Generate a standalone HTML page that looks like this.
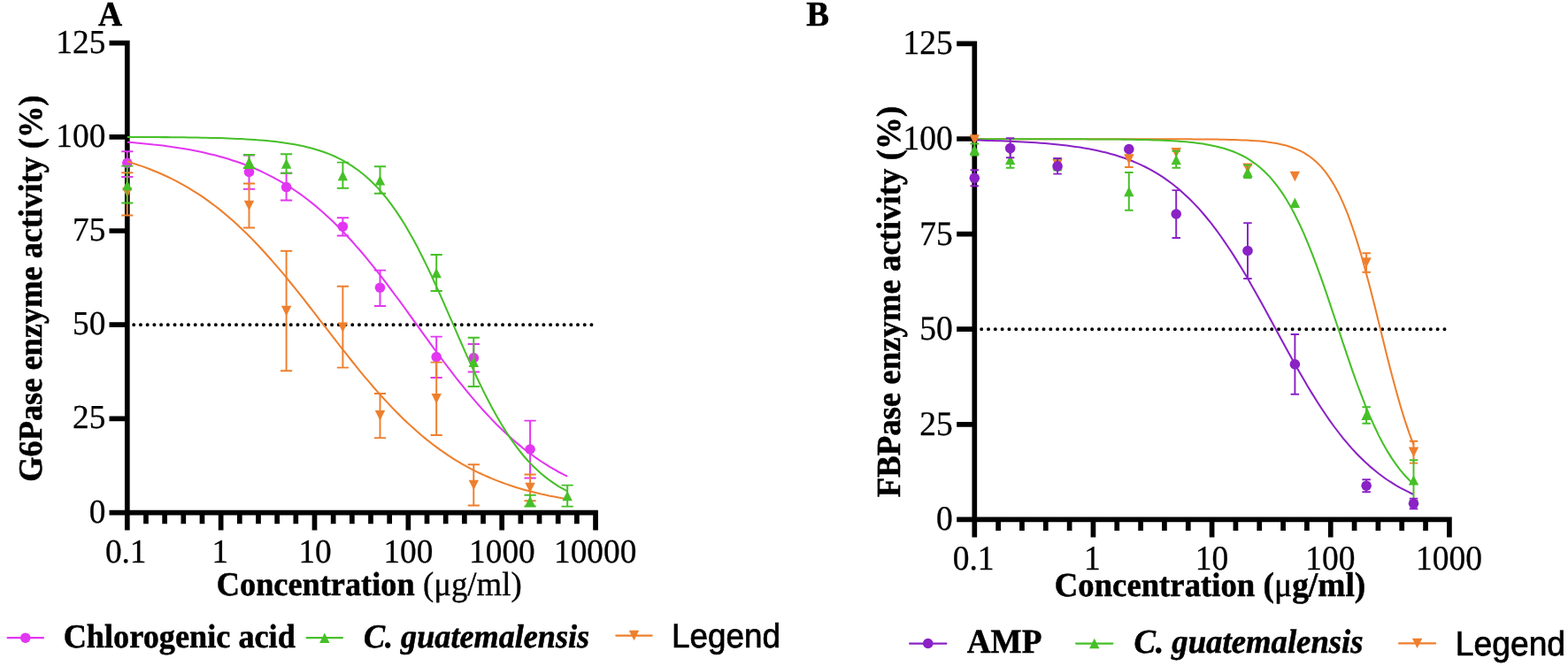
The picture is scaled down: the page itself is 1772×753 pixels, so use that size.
<!DOCTYPE html>
<html lang="en"><head><meta charset="utf-8"><title>Enzyme activity dose-response curves</title>
<style>
html,body{margin:0;padding:0;background:#fff;}
body{width:1772px;height:753px;overflow:hidden;}
svg{display:block;}
text{font-family:'Liberation Serif', 'Times New Roman', Times, serif;fill:#000;text-rendering:geometricPrecision;}
.b{font-weight:bold;stroke:#000;stroke-width:0.5px;}
.bi{font-weight:bold;font-style:italic;stroke:#000;stroke-width:0.5px;}
.s{font-family:'Liberation Sans', Arial, Helvetica, sans-serif;stroke:#000;stroke-width:0.7px;}
.n{font-weight:normal;stroke-width:0.6px;}
.r{stroke:#000;stroke-width:0.35px;}
.t{stroke:#000;stroke-width:0.3px;}
</style></head><body>
<svg width="1772" height="753" viewBox="0 0 1772 753">
<rect width="1772" height="753" fill="#fff"/>
<g id="chartA">
<path d="M143.80 45.75V582.45M140.95 579.60H675.90M123.50 579.60H143.80M123.50 473.40H143.80M123.50 367.20H143.80M123.50 261.00H143.80M123.50 154.80H143.80M123.50 48.60H143.80M143.80 579.60V599.60M164.97 579.60V592.20M186.14 579.60V592.20M207.31 579.60V592.20M228.48 579.60V592.20M249.65 579.60V599.60M270.82 579.60V592.20M291.99 579.60V592.20M313.16 579.60V592.20M334.33 579.60V592.20M355.50 579.60V599.60M376.67 579.60V592.20M397.84 579.60V592.20M419.01 579.60V592.20M440.18 579.60V592.20M461.35 579.60V599.60M482.52 579.60V592.20M503.69 579.60V592.20M524.86 579.60V592.20M546.03 579.60V592.20M567.20 579.60V599.60M588.37 579.60V592.20M609.54 579.60V592.20M630.71 579.60V592.20M651.88 579.60V592.20M673.05 579.60V599.60" stroke="#000" stroke-width="5.7" fill="none"/>
<path d="M151.20 367.20H673.05" stroke="#000" stroke-width="4.0" stroke-dasharray="0 7.72" stroke-linecap="round" fill="none"/>
<text transform="translate(119.30 590.60) scale(1 1.02)" text-anchor="end" font-size="37.3" class="t">0</text>
<text transform="translate(119.30 484.40) scale(1 1.02)" text-anchor="end" font-size="37.3" class="t">25</text>
<text transform="translate(119.30 378.20) scale(1 1.02)" text-anchor="end" font-size="37.3" class="t">50</text>
<text transform="translate(119.30 272.00) scale(1 1.02)" text-anchor="end" font-size="37.3" class="t">75</text>
<text transform="translate(119.30 165.80) scale(1 1.02)" text-anchor="end" font-size="37.3" class="t">100</text>
<text transform="translate(119.30 59.60) scale(1 1.02)" text-anchor="end" font-size="37.3" class="t">125</text>
<text transform="translate(142.20 636.00) scale(1 1.02)" text-anchor="middle" font-size="37.3" class="t">0.1</text>
<text transform="translate(248.80 636.00) scale(1 1.02)" text-anchor="middle" font-size="37.3" class="t">1</text>
<text transform="translate(356.10 636.00) scale(1 1.02)" text-anchor="middle" font-size="37.3" class="t">10</text>
<text transform="translate(461.40 636.00) scale(1 1.02)" text-anchor="middle" font-size="37.3" class="t">100</text>
<text transform="translate(567.40 636.00) scale(1 1.02)" text-anchor="middle" font-size="37.3" class="t">1000</text>
<text transform="translate(672.70 636.00) scale(1 1.02)" text-anchor="middle" font-size="37.3" class="t">10000</text>
<text transform="translate(111.12 29.30) scale(0.9887 1.0400)" font-size="38.00" class="b">A</text>
<text transform="translate(47.00 544.75) rotate(-90) scale(1.0000 1.04)" font-size="36.37" class="b">G6Pase enzyme activity (%)</text>
<text transform="translate(244.79 673.40) scale(1.0000 1.0400)" font-size="36.30" class="b">Concentration</text>
<text transform="translate(477.93 673.40) scale(1.0000 1.0400)" font-size="36.81" class="r">(μg/ml)</text>
<g><path d="M143.8 171.3V200.0M137.2 171.3H150.4M137.2 200.0H150.4M281.5 175.4V213.7M274.9 175.4H288.1M274.9 213.7H288.1M323.6 195.8V226.4M317.0 195.8H330.2M317.0 226.4H330.2M387.4 246.2V266.5M380.8 246.2H394.0M380.8 266.5H394.0M429.5 305.6V346.0M422.9 305.6H436.1M422.9 346.0H436.1M493.2 380.6V427.0M486.6 380.6H499.8M486.6 427.0H499.8M535.3 389.0V420.4M528.7 389.0H541.9M528.7 420.4H541.9M599.1 475.6V540.4M592.5 475.6H605.7M592.5 540.4H605.7" stroke="#e236f2" stroke-width="1.95" fill="none"/>
<circle cx="143.80" cy="184.30" r="5.8" fill="#e236f2"/>
<circle cx="281.51" cy="194.50" r="5.8" fill="#e236f2"/>
<circle cx="323.64" cy="211.55" r="5.8" fill="#e236f2"/>
<circle cx="387.36" cy="256.20" r="5.8" fill="#e236f2"/>
<circle cx="429.49" cy="325.25" r="5.8" fill="#e236f2"/>
<circle cx="493.21" cy="403.60" r="5.8" fill="#e236f2"/>
<circle cx="535.34" cy="404.65" r="5.8" fill="#e236f2"/>
<circle cx="599.06" cy="508.00" r="5.8" fill="#e236f2"/>
</g>
<polyline points="143.8,160.7 148.8,161.1 153.7,161.5 158.7,162.0 163.7,162.4 168.7,162.9 173.6,163.5 178.6,164.0 183.6,164.6 188.6,165.3 193.5,166.0 198.5,166.7 203.5,167.4 208.5,168.3 213.4,169.1 218.4,170.1 223.4,171.0 228.4,172.1 233.3,173.2 238.3,174.4 243.3,175.6 248.3,176.9 253.2,178.3 258.2,179.8 263.2,181.4 268.1,183.0 273.1,184.8 278.1,186.6 283.1,188.6 288.0,190.6 293.0,192.8 298.0,195.1 303.0,197.6 307.9,200.1 312.9,202.8 317.9,205.6 322.9,208.6 327.8,211.7 332.8,215.0 337.8,218.4 342.8,222.0 347.7,225.7 352.7,229.6 357.7,233.7 362.6,238.0 367.6,242.4 372.6,247.0 377.6,251.7 382.5,256.7 387.5,261.8 392.5,267.0 397.5,272.5 402.4,278.1 407.4,283.8 412.4,289.7 417.4,295.8 422.3,301.9 427.3,308.2 432.3,314.6 437.3,321.2 442.2,327.8 447.2,334.5 452.2,341.2 457.2,348.0 462.1,354.9 467.1,361.8 472.1,368.7 477.0,375.6 482.0,382.4 487.0,389.3 492.0,396.1 496.9,402.8 501.9,409.5 506.9,416.1 511.9,422.6 516.8,429.0 521.8,435.2 526.8,441.4 531.8,447.4 536.7,453.2 541.7,458.9 546.7,464.5 551.7,469.9 556.6,475.1 561.6,480.2 566.6,485.1 571.6,489.8 576.5,494.3 581.5,498.7 586.5,502.9 591.4,507.0 596.4,510.8 601.4,514.5 606.4,518.1 611.3,521.5 616.3,524.7 621.3,527.8 626.3,530.7 631.2,533.5 636.2,536.1 641.2,538.7" stroke="#e236f2" stroke-width="2.05" fill="none" stroke-linejoin="round"/>
<g><path d="M143.8 195.3V243.5M137.2 195.3H150.4M137.2 243.5H150.4M281.5 207.4V257.5M274.9 207.4H288.1M274.9 257.5H288.1M323.6 283.8V419.2M317.0 283.8H330.2M317.0 419.2H330.2M387.4 323.8V415.6M380.8 323.8H394.0M380.8 415.6H394.0M429.5 445.0V495.1M422.9 445.0H436.1M422.9 495.1H436.1M493.2 409.6V491.9M486.6 409.6H499.8M486.6 491.9H499.8M535.3 525.3V571.5M528.7 525.3H541.9M528.7 571.5H541.9M599.1 536.4V566.3M592.5 536.4H605.7M592.5 566.3H605.7" stroke="#ee7f2d" stroke-width="1.95" fill="none"/>
<path d="M143.80 223.50L149.50 212.10H138.10Z" fill="#ee7f2d"/>
<path d="M281.51 238.10L287.21 226.70H275.81Z" fill="#ee7f2d"/>
<path d="M323.64 357.20L329.34 345.80H317.94Z" fill="#ee7f2d"/>
<path d="M387.36 375.80L393.06 364.40H381.66Z" fill="#ee7f2d"/>
<path d="M429.49 475.50L435.19 464.10H423.79Z" fill="#ee7f2d"/>
<path d="M493.21 456.50L498.91 445.10H487.51Z" fill="#ee7f2d"/>
<path d="M535.34 554.10L541.04 542.70H529.64Z" fill="#ee7f2d"/>
<path d="M599.06 557.10L604.76 545.70H593.36Z" fill="#ee7f2d"/>
</g>
<polyline points="143.8,182.6 148.8,184.1 153.7,185.7 158.7,187.4 163.7,189.1 168.7,191.0 173.6,193.0 178.6,195.0 183.6,197.2 188.6,199.5 193.5,201.9 198.5,204.4 203.5,207.1 208.5,209.8 213.4,212.7 218.4,215.8 223.4,218.9 228.4,222.2 233.3,225.7 238.3,229.3 243.3,233.0 248.3,236.9 253.2,241.0 258.2,245.2 263.2,249.5 268.1,254.0 273.1,258.7 278.1,263.5 283.1,268.4 288.0,273.5 293.0,278.8 298.0,284.2 303.0,289.7 307.9,295.3 312.9,301.1 317.9,306.9 322.9,312.9 327.8,319.0 332.8,325.1 337.8,331.4 342.8,337.7 347.7,344.0 352.7,350.4 357.7,356.8 362.6,363.3 367.6,369.7 372.6,376.2 377.6,382.6 382.5,389.0 387.5,395.4 392.5,401.7 397.5,408.0 402.4,414.2 407.4,420.3 412.4,426.3 417.4,432.2 422.3,438.0 427.3,443.6 432.3,449.2 437.3,454.6 442.2,459.9 447.2,465.0 452.2,470.0 457.2,474.9 462.1,479.6 467.1,484.1 472.1,488.5 477.0,492.8 482.0,496.9 487.0,500.8 492.0,504.6 496.9,508.2 501.9,511.7 506.9,515.1 511.9,518.3 516.8,521.4 521.8,524.3 526.8,527.1 531.8,529.8 536.7,532.3 541.7,534.8 546.7,537.1 551.7,539.3 556.6,541.4 561.6,543.4 566.6,545.3 571.6,547.1 576.5,548.8 581.5,550.4 586.5,552.0 591.4,553.4 596.4,554.8 601.4,556.1 606.4,557.3 611.3,558.5 616.3,559.6 621.3,560.7 626.3,561.6 631.2,562.6 636.2,563.5 641.2,564.3" stroke="#ee7f2d" stroke-width="2.05" fill="none" stroke-linejoin="round"/>
<g><path d="M143.8 187.6V229.5M137.2 187.6H150.4M137.2 229.5H150.4M281.5 175.0V190.0M274.9 175.0H288.1M274.9 190.0H288.1M323.6 174.2V195.8M317.0 174.2H330.2M317.0 195.8H330.2M387.4 183.6V212.7M380.8 183.6H394.0M380.8 212.7H394.0M429.5 188.3V218.8M422.9 188.3H436.1M422.9 218.8H436.1M493.2 287.9V329.0M486.6 287.9H499.8M486.6 329.0H499.8M535.3 381.8V436.9M528.7 381.8H541.9M528.7 436.9H541.9M599.1 559.7V572.5M592.5 559.7H605.7M592.5 572.5H605.7M641.2 548.6V572.6M634.6 548.6H647.8M634.6 572.6H647.8" stroke="#46c028" stroke-width="1.95" fill="none"/>
<path d="M143.80 203.80L149.50 215.20H138.10Z" fill="#46c028"/>
<path d="M281.51 177.50L287.21 188.90H275.81Z" fill="#46c028"/>
<path d="M323.64 179.30L329.34 190.70H317.94Z" fill="#46c028"/>
<path d="M387.36 192.90L393.06 204.30H381.66Z" fill="#46c028"/>
<path d="M429.49 198.20L435.19 209.60H423.79Z" fill="#46c028"/>
<path d="M493.21 302.90L498.91 314.30H487.51Z" fill="#46c028"/>
<path d="M535.34 403.60L541.04 415.00H529.64Z" fill="#46c028"/>
<path d="M599.06 560.80L604.76 572.20H593.36Z" fill="#46c028"/>
<path d="M641.19 554.90L646.89 566.30H635.49Z" fill="#46c028"/>
</g>
<polyline points="143.8,154.9 148.8,154.9 153.7,154.9 158.7,155.0 163.7,155.0 168.7,155.0 173.6,155.0 178.6,155.1 183.6,155.1 188.6,155.1 193.5,155.2 198.5,155.2 203.5,155.3 208.5,155.3 213.4,155.4 218.4,155.5 223.4,155.6 228.4,155.7 233.3,155.8 238.3,155.9 243.3,156.0 248.3,156.1 253.2,156.3 258.2,156.5 263.2,156.7 268.1,156.9 273.1,157.1 278.1,157.4 283.1,157.7 288.0,158.0 293.0,158.4 298.0,158.8 303.0,159.3 307.9,159.8 312.9,160.3 317.9,161.0 322.9,161.7 327.8,162.4 332.8,163.3 337.8,164.2 342.8,165.3 347.7,166.5 352.7,167.7 357.7,169.2 362.6,170.8 367.6,172.5 372.6,174.4 377.6,176.5 382.5,178.9 387.5,181.4 392.5,184.3 397.5,187.4 402.4,190.8 407.4,194.5 412.4,198.5 417.4,202.9 422.3,207.7 427.3,212.9 432.3,218.6 437.3,224.6 442.2,231.1 447.2,238.1 452.2,245.6 457.2,253.5 462.1,261.9 467.1,270.8 472.1,280.1 477.0,289.8 482.0,299.9 487.0,310.4 492.0,321.2 496.9,332.2 501.9,343.4 506.9,354.8 511.9,366.2 516.8,377.6 521.8,389.0 526.8,400.3 531.8,411.3 536.7,422.2 541.7,432.7 546.7,442.9 551.7,452.7 556.6,462.1 561.6,471.0 566.6,479.5 571.6,487.6 576.5,495.1 581.5,502.2 586.5,508.8 591.4,515.0 596.4,520.7 601.4,525.9 606.4,530.8 611.3,535.3 616.3,539.4 621.3,543.2 626.3,546.7 631.2,549.8 636.2,552.7 641.2,555.3" stroke="#46c028" stroke-width="2.05" fill="none" stroke-linejoin="round"/>
<path d="M8.6 721.2H48.9" stroke="#e236f2" stroke-width="2.25" stroke-linecap="round"/>
<circle cx="28.75" cy="721.20" r="5.8" fill="#e236f2"/>
<text transform="translate(71.69 731.50) scale(1.0000 1.0400)" font-size="36.25" class="b">Chlorogenic acid</text>
<path d="M346.7 721.2H386.9" stroke="#46c028" stroke-width="2.25" stroke-linecap="round"/>
<path d="M366.80 715.50L372.50 726.90H361.10Z" fill="#46c028"/>
<text transform="translate(410.91 731.50) scale(1.0000 1.0400)" font-size="36.18" class="bi">C. guatemalensis</text>
<path d="M696.3 718.5H736.7" stroke="#ee7f2d" stroke-width="2.25" stroke-linecap="round"/>
<path d="M716.50 724.20L722.20 712.80H710.80Z" fill="#ee7f2d"/>
<text transform="translate(758.95 732.20) scale(1.0000 1.0450)" font-size="36.87" class="s">Legend</text>
</g>
<g id="chartB">
<path d="M1101.30 46.55V590.25M1098.45 587.40H1640.75M1081.20 587.40H1101.30M1081.20 479.80H1101.30M1081.20 372.20H1101.30M1081.20 264.60H1101.30M1081.20 157.00H1101.30M1081.20 49.40H1101.30M1101.30 587.40V607.60M1128.13 587.40V600.00M1154.96 587.40V600.00M1181.79 587.40V600.00M1208.62 587.40V600.00M1235.45 587.40V607.60M1262.28 587.40V600.00M1289.11 587.40V600.00M1315.94 587.40V600.00M1342.77 587.40V600.00M1369.60 587.40V607.60M1396.43 587.40V600.00M1423.26 587.40V600.00M1450.09 587.40V600.00M1476.92 587.40V600.00M1503.75 587.40V607.60M1530.58 587.40V600.00M1557.41 587.40V600.00M1584.24 587.40V600.00M1611.07 587.40V600.00M1637.90 587.40V607.60" stroke="#000" stroke-width="5.7" fill="none"/>
<path d="M1109.20 372.20H1637.90" stroke="#000" stroke-width="4.0" stroke-dasharray="0 7.81" stroke-linecap="round" fill="none"/>
<text transform="translate(1076.80 599.30) scale(1 1.04)" text-anchor="end" font-size="37.5" class="t">0</text>
<text transform="translate(1076.80 491.70) scale(1 1.04)" text-anchor="end" font-size="37.5" class="t">25</text>
<text transform="translate(1076.80 384.10) scale(1 1.04)" text-anchor="end" font-size="37.5" class="t">50</text>
<text transform="translate(1076.80 276.50) scale(1 1.04)" text-anchor="end" font-size="37.5" class="t">75</text>
<text transform="translate(1076.80 168.90) scale(1 1.04)" text-anchor="end" font-size="37.5" class="t">100</text>
<text transform="translate(1076.80 61.30) scale(1 1.04)" text-anchor="end" font-size="37.5" class="t">125</text>
<text transform="translate(1100.10 644.30) scale(1 1.04)" text-anchor="middle" font-size="37.5" class="t">0.1</text>
<text transform="translate(1234.40 644.30) scale(1 1.04)" text-anchor="middle" font-size="37.5" class="t">1</text>
<text transform="translate(1369.60 644.30) scale(1 1.04)" text-anchor="middle" font-size="37.5" class="t">10</text>
<text transform="translate(1503.40 644.30) scale(1 1.04)" text-anchor="middle" font-size="37.5" class="t">100</text>
<text transform="translate(1637.40 644.30) scale(1 1.04)" text-anchor="middle" font-size="37.5" class="t">1000</text>
<text transform="translate(911.23 28.90) scale(1.0187 1.0400)" font-size="38.00" class="b">B</text>
<text transform="translate(1016.60 562.34) rotate(-90) scale(1.0000 1.04)" font-size="36.79" class="b">FBPase enzyme activity (%)</text>
<text transform="translate(1191.76 674.20) scale(1.0000 1.0400)" font-size="36.74" class="b">Concentration</text>
<text transform="translate(1427.60 674.20) scale(1.0000 1.0400)" font-size="37.44" class="b">(<tspan class="n">μ</tspan>g/ml)</text>
<polyline points="1101.3,157.2 1106.3,157.2 1111.2,157.2 1116.2,157.2 1121.1,157.2 1126.1,157.2 1131.1,157.2 1136.0,157.2 1141.0,157.2 1146.0,157.2 1150.9,157.2 1155.9,157.2 1160.8,157.2 1165.8,157.2 1170.8,157.2 1175.7,157.2 1180.7,157.2 1185.7,157.2 1190.6,157.2 1195.6,157.2 1200.5,157.2 1205.5,157.2 1210.5,157.2 1215.4,157.2 1220.4,157.2 1225.4,157.2 1230.3,157.2 1235.3,157.2 1240.2,157.2 1245.2,157.2 1250.2,157.2 1255.1,157.2 1260.1,157.2 1265.1,157.2 1270.0,157.2 1275.0,157.2 1279.9,157.2 1284.9,157.2 1289.9,157.2 1294.8,157.2 1299.8,157.2 1304.7,157.2 1309.7,157.2 1314.7,157.3 1319.6,157.3 1324.6,157.3 1329.6,157.3 1334.5,157.3 1339.5,157.3 1344.4,157.3 1349.4,157.4 1354.4,157.4 1359.3,157.4 1364.3,157.5 1369.3,157.5 1374.2,157.6 1379.2,157.7 1384.1,157.8 1389.1,157.9 1394.1,158.0 1399.0,158.2 1404.0,158.4 1409.0,158.6 1413.9,158.9 1418.9,159.2 1423.8,159.6 1428.8,160.1 1433.8,160.7 1438.7,161.5 1443.7,162.3 1448.7,163.4 1453.6,164.6 1458.6,166.2 1463.5,168.0 1468.5,170.1 1473.5,172.7 1478.4,175.8 1483.4,179.5 1488.3,183.8 1493.3,188.9 1498.3,194.9 1503.2,201.9 1508.2,210.0 1513.2,219.4 1518.1,230.1 1523.1,242.2 1528.0,255.8 1533.0,270.9 1538.0,287.3 1542.9,305.0 1547.9,323.7 1552.9,343.3 1557.8,363.3 1562.8,383.5 1567.7,403.5 1572.7,422.9 1577.7,441.5 1582.6,458.9 1587.6,475.1 1592.6,489.8 1597.5,503.1" stroke="#ee7f2d" stroke-width="2.05" fill="none" stroke-linejoin="round"/>
<polyline points="1101.3,157.2 1106.3,157.2 1111.2,157.2 1116.2,157.2 1121.1,157.2 1126.1,157.2 1131.1,157.2 1136.0,157.2 1141.0,157.2 1146.0,157.2 1150.9,157.2 1155.9,157.2 1160.8,157.2 1165.8,157.2 1170.8,157.2 1175.7,157.2 1180.7,157.2 1185.7,157.3 1190.6,157.3 1195.6,157.3 1200.5,157.3 1205.5,157.3 1210.5,157.3 1215.4,157.3 1220.4,157.3 1225.4,157.3 1230.3,157.4 1235.3,157.4 1240.2,157.4 1245.2,157.4 1250.2,157.5 1255.1,157.5 1260.1,157.5 1265.1,157.6 1270.0,157.6 1275.0,157.7 1279.9,157.8 1284.9,157.9 1289.9,158.0 1294.8,158.1 1299.8,158.2 1304.7,158.4 1309.7,158.5 1314.7,158.7 1319.6,159.0 1324.6,159.2 1329.6,159.6 1334.5,159.9 1339.5,160.3 1344.4,160.8 1349.4,161.3 1354.4,161.9 1359.3,162.6 1364.3,163.5 1369.3,164.4 1374.2,165.5 1379.2,166.7 1384.1,168.1 1389.1,169.7 1394.1,171.5 1399.0,173.6 1404.0,176.0 1409.0,178.7 1413.9,181.8 1418.9,185.3 1423.8,189.3 1428.8,193.7 1433.8,198.7 1438.7,204.3 1443.7,210.6 1448.7,217.6 1453.6,225.3 1458.6,233.8 1463.5,243.1 1468.5,253.2 1473.5,264.1 1478.4,275.8 1483.4,288.3 1488.3,301.4 1493.3,315.2 1498.3,329.4 1503.2,344.1 1508.2,359.0 1513.2,374.0 1518.1,388.9 1523.1,403.7 1528.0,418.1 1533.0,432.0 1538.0,445.4 1542.9,458.1 1547.9,470.1 1552.9,481.3 1557.8,491.6 1562.8,501.2 1567.7,509.9 1572.7,517.9 1577.7,525.1 1582.6,531.6 1587.6,537.5 1592.6,542.7 1597.5,547.3" stroke="#46c028" stroke-width="2.05" fill="none" stroke-linejoin="round"/>
<polyline points="1101.3,158.5 1106.3,158.6 1111.2,158.7 1116.2,158.9 1121.1,159.0 1126.1,159.2 1131.1,159.3 1136.0,159.5 1141.0,159.7 1146.0,159.9 1150.9,160.2 1155.9,160.4 1160.8,160.7 1165.8,161.0 1170.8,161.3 1175.7,161.7 1180.7,162.0 1185.7,162.5 1190.6,162.9 1195.6,163.4 1200.5,163.9 1205.5,164.5 1210.5,165.2 1215.4,165.9 1220.4,166.6 1225.4,167.4 1230.3,168.3 1235.3,169.2 1240.2,170.3 1245.2,171.4 1250.2,172.6 1255.1,173.9 1260.1,175.3 1265.1,176.9 1270.0,178.5 1275.0,180.3 1279.9,182.3 1284.9,184.4 1289.9,186.6 1294.8,189.0 1299.8,191.6 1304.7,194.4 1309.7,197.4 1314.7,200.6 1319.6,204.1 1324.6,207.8 1329.6,211.7 1334.5,215.9 1339.5,220.4 1344.4,225.1 1349.4,230.1 1354.4,235.4 1359.3,241.0 1364.3,247.0 1369.3,253.2 1374.2,259.7 1379.2,266.5 1384.1,273.6 1389.1,281.0 1394.1,288.6 1399.0,296.6 1404.0,304.7 1409.0,313.1 1413.9,321.7 1418.9,330.4 1423.8,339.3 1428.8,348.3 1433.8,357.4 1438.7,366.6 1443.7,375.7 1448.7,384.9 1453.6,394.0 1458.6,403.0 1463.5,411.9 1468.5,420.7 1473.5,429.3 1478.4,437.7 1483.4,445.9 1488.3,453.8 1493.3,461.5 1498.3,469.0 1503.2,476.1 1508.2,483.0 1513.2,489.5 1518.1,495.8 1523.1,501.7 1528.0,507.4 1533.0,512.7 1538.0,517.8 1542.9,522.6 1547.9,527.1 1552.9,531.3 1557.8,535.3 1562.8,539.0 1567.7,542.5 1572.7,545.7 1577.7,548.8 1582.6,551.6 1587.6,554.2 1592.6,556.7 1597.5,559.0" stroke="#8a22c6" stroke-width="2.05" fill="none" stroke-linejoin="round"/>
<g><path d="M1275.8 175.4V189.0M1271.1 175.4H1280.6M1271.1 189.0H1280.6M1544.1 286.2V307.7M1539.4 286.2H1548.9M1539.4 307.7H1548.9M1597.5 498.7V523.6M1592.8 498.7H1602.3M1592.8 523.6H1602.3" stroke="#ee7f2d" stroke-width="1.95" fill="none"/>
<path d="M1101.30 163.70L1107.00 152.30H1095.60Z" fill="#ee7f2d"/>
<path d="M1141.68 176.70L1147.38 165.30H1135.98Z" fill="#ee7f2d"/>
<path d="M1195.07 191.50L1200.77 180.10H1189.37Z" fill="#ee7f2d"/>
<path d="M1275.83 185.70L1281.53 174.30H1270.13Z" fill="#ee7f2d"/>
<path d="M1329.22 178.50L1334.92 167.10H1323.52Z" fill="#ee7f2d"/>
<path d="M1409.98 195.80L1415.68 184.40H1404.28Z" fill="#ee7f2d"/>
<path d="M1463.37 205.20L1469.07 193.80H1457.67Z" fill="#ee7f2d"/>
<path d="M1544.13 302.60L1549.83 291.20H1538.43Z" fill="#ee7f2d"/>
<path d="M1597.52 516.90L1603.22 505.50H1591.82Z" fill="#ee7f2d"/>
</g>
<g><path d="M1101.3 162.4V175.5M1096.5 162.4H1106.0M1096.5 175.5H1106.0M1141.7 169.5V189.7M1136.9 169.5H1146.4M1136.9 189.7H1146.4M1195.1 179.5V192.6M1190.3 179.5H1199.8M1190.3 192.6H1199.8M1275.8 194.9V237.7M1271.1 194.9H1280.6M1271.1 237.7H1280.6M1329.2 170.7V189.8M1324.5 170.7H1334.0M1324.5 189.8H1334.0M1410.0 186.6V201.0M1405.2 186.6H1414.7M1405.2 201.0H1414.7M1544.1 460.2V478.7M1539.4 460.2H1548.9M1539.4 478.7H1548.9M1597.5 520.3V566.0M1592.8 520.3H1602.3M1592.8 566.0H1602.3" stroke="#46c028" stroke-width="1.95" fill="none"/>
<path d="M1101.30 163.50L1107.00 174.90H1095.60Z" fill="#46c028"/>
<path d="M1141.68 174.90L1147.38 186.30H1135.98Z" fill="#46c028"/>
<path d="M1195.07 180.30L1200.77 191.70H1189.37Z" fill="#46c028"/>
<path d="M1275.83 210.90L1281.53 222.30H1270.13Z" fill="#46c028"/>
<path d="M1329.22 174.90L1334.92 186.30H1323.52Z" fill="#46c028"/>
<path d="M1409.98 188.80L1415.68 200.20H1404.28Z" fill="#46c028"/>
<path d="M1463.37 223.60L1469.07 235.00H1457.67Z" fill="#46c028"/>
<path d="M1544.13 463.60L1549.83 475.00H1538.43Z" fill="#46c028"/>
<path d="M1597.52 537.20L1603.22 548.60H1591.82Z" fill="#46c028"/>
</g>
<g><path d="M1101.3 192.2V210.3M1096.5 192.2H1106.0M1096.5 210.3H1106.0M1141.7 156.2V178.3M1136.9 156.2H1146.4M1136.9 178.3H1146.4M1195.1 178.9V196.6M1190.3 178.9H1199.8M1190.3 196.6H1199.8M1329.2 215.1V268.9M1324.5 215.1H1334.0M1324.5 268.9H1334.0M1410.0 252.1V315.0M1405.2 252.1H1414.7M1405.2 315.0H1414.7M1463.4 377.9V445.7M1458.6 377.9H1468.1M1458.6 445.7H1468.1M1544.1 542.3V556.3M1539.4 542.3H1548.9M1539.4 556.3H1548.9M1597.5 563.6V575.3M1592.8 563.6H1602.3M1592.8 575.3H1602.3" stroke="#8a22c6" stroke-width="1.95" fill="none"/>
<circle cx="1101.30" cy="201.30" r="5.8" fill="#8a22c6"/>
<circle cx="1141.68" cy="167.60" r="5.8" fill="#8a22c6"/>
<circle cx="1195.07" cy="187.90" r="5.8" fill="#8a22c6"/>
<circle cx="1275.83" cy="168.65" r="5.8" fill="#8a22c6"/>
<circle cx="1329.22" cy="242.00" r="5.8" fill="#8a22c6"/>
<circle cx="1409.98" cy="283.50" r="5.8" fill="#8a22c6"/>
<circle cx="1463.37" cy="411.90" r="5.8" fill="#8a22c6"/>
<circle cx="1544.13" cy="549.20" r="5.8" fill="#8a22c6"/>
<circle cx="1597.52" cy="569.30" r="5.8" fill="#8a22c6"/>
</g>
<path d="M1028.1 727.5H1069.4" stroke="#8a22c6" stroke-width="2.25" stroke-linecap="round"/>
<circle cx="1048.75" cy="727.50" r="5.8" fill="#8a22c6"/>
<text transform="translate(1092.73 738.20) scale(1.0000 1.0400)" font-size="37.19" class="b">AMP</text>
<path d="M1216.1 727.5H1257.4" stroke="#46c028" stroke-width="2.25" stroke-linecap="round"/>
<path d="M1236.75 721.80L1242.45 733.20H1231.05Z" fill="#46c028"/>
<text transform="translate(1281.40 738.20) scale(1.0000 1.0400)" font-size="36.74" class="bi">C. guatemalensis</text>
<path d="M1581.1 727.4H1622.1" stroke="#ee7f2d" stroke-width="2.25" stroke-linecap="round"/>
<path d="M1601.60 733.10L1607.30 721.70H1595.90Z" fill="#ee7f2d"/>
<text transform="translate(1644.82 741.40) scale(1.0000 1.0450)" font-size="37.24" class="s">Legend</text>
</g>
</svg>
</body></html>
